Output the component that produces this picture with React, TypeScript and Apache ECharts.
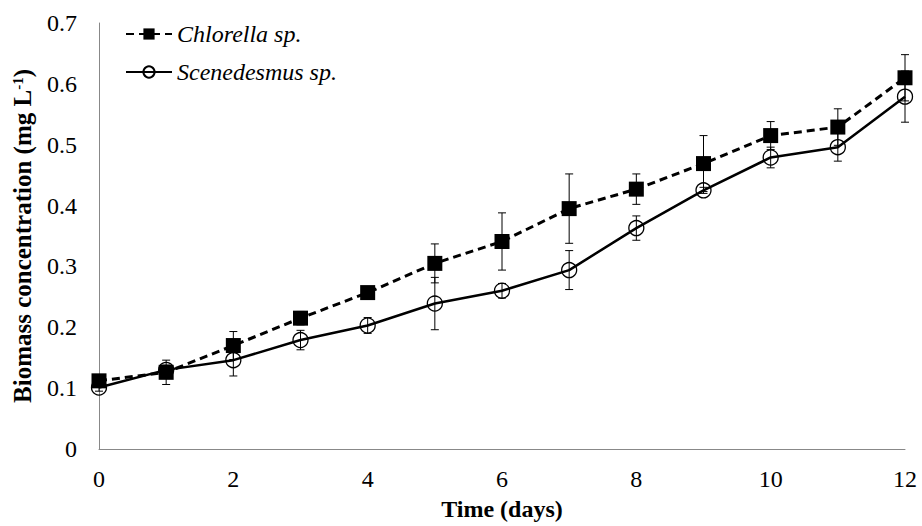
import React, { useEffect, useRef } from "react";
import * as echarts from "echarts";

const days = [0, 1, 2, 3, 4, 5, 6, 7, 8, 9, 10, 11, 12];
const chlorella = [0.112, 0.126, 0.17, 0.215, 0.257, 0.305, 0.341, 0.395, 0.427, 0.469, 0.515, 0.529, 0.61];
const chlorellaErr = [0.008, 0.02, 0.023, 0.011, 0.008, 0.032, 0.047, 0.057, 0.025, 0.046, 0.023, 0.03, 0.038];
const scenedesmus = [0.101, 0.13, 0.146, 0.179, 0.203, 0.239, 0.26, 0.294, 0.363, 0.425, 0.479, 0.496, 0.579];
const scenedesmusErr = [0.006, 0.008, 0.026, 0.016, 0.013, 0.043, 0.012, 0.032, 0.02, 0.005, 0.017, 0.023, 0.042];

const FONT = "'Liberation Serif', 'Times New Roman', serif";

function errData(vals: number[], errs: number[]) {
  return days.map((d, i) => [d, vals[i] - errs[i], vals[i] + errs[i]]);
}

function renderErr(params: any, api: any) {
  const x = api.value(0);
  const lo = api.coord([x, api.value(1)]);
  const hi = api.coord([x, api.value(2)]);
  const cap = 4;
  const style = { stroke: "#000", lineWidth: 1 };
  return {
    type: "group",
    children: [
      { type: "line", shape: { x1: lo[0], y1: lo[1], x2: hi[0], y2: hi[1] }, style },
      { type: "line", shape: { x1: lo[0] - cap, y1: lo[1], x2: lo[0] + cap, y2: lo[1] }, style },
      { type: "line", shape: { x1: hi[0] - cap, y1: hi[1], x2: hi[0] + cap, y2: hi[1] }, style },
    ],
  };
}

export default function App() {
  const ref = useRef<HTMLDivElement>(null);
  useEffect(() => {
    if (!ref.current) return;
    const chart = echarts.init(ref.current, undefined, { renderer: "svg" });
    chart.setOption({
      animation: false,
      textStyle: { fontFamily: FONT },
      grid: { left: 99, right: 17, top: 23, bottom: 76, containLabel: false },
      legend: {
        data: ["Chlorella sp.", "Scenedesmus sp."],
        orient: "vertical",
        left: 120,
        top: 17,
        itemWidth: 46,
        itemHeight: 14,
        itemGap: 14,
        textStyle: { fontFamily: FONT, fontSize: 24, fontStyle: "italic", color: "#000", padding: [0, 0, 0, 0] },
      },
      xAxis: {
        type: "value",
        min: 0,
        max: 12,
        interval: 2,
        name: "Time (days)",
        nameLocation: "middle",
        nameGap: 48,
        nameTextStyle: { fontFamily: FONT, fontSize: 24, fontWeight: "bold", color: "#000" },
        axisLine: { lineStyle: { color: "#888", width: 1 } },
        axisTick: { show: false },
        splitLine: { show: false },
        axisLabel: { fontFamily: FONT, fontSize: 24, color: "#000", margin: 18 },
      },
      yAxis: {
        type: "value",
        min: 0,
        max: 0.7,
        interval: 0.1,
        name: "{b|Biomass concentration (mg L}{s|-1}{b|)}",
        nameLocation: "middle",
        nameGap: 64,
        nameRotate: 90,
        nameTextStyle: {
          fontFamily: FONT,
          color: "#000",
          rich: {
            b: { fontFamily: FONT, fontSize: 25, fontWeight: "bold", color: "#000" },
            s: { fontFamily: FONT, fontSize: 15, fontWeight: "bold", color: "#000", verticalAlign: "top", padding: [0, 0, 10, 0] },
          },
        },
        axisLine: { show: true, lineStyle: { color: "#888", width: 1 } },
        axisTick: { show: false },
        splitLine: { show: false },
        axisLabel: {
          fontFamily: FONT,
          fontSize: 24,
          color: "#000",
          margin: 22,
          formatter: (v: number) => (v === 0 ? "0" : v.toFixed(1)),
        },
      },
      series: [
        {
          name: "Chlorella sp.",
          type: "line",
          data: days.map((d, i) => [d, chlorella[i]]),
          symbol: "rect",
          symbolSize: 15,
          itemStyle: { color: "#000" },
          lineStyle: { color: "#000", width: 3, type: [8, 5] },
          z: 3,
        },
        {
          name: "Scenedesmus sp.",
          type: "line",
          data: days.map((d, i) => [d, scenedesmus[i]]),
          symbol: "circle",
          symbolSize: 15,
          itemStyle: { color: "rgba(255,255,255,0)", borderColor: "#000", borderWidth: 1.3 },
          lineStyle: { color: "#000", width: 2.5, type: "solid" },
          z: 3,
        },
        {
          name: "errC",
          type: "custom",
          renderItem: renderErr,
          data: errData(chlorella, chlorellaErr),
          encode: { x: 0, y: [1, 2] },
          z: 4,
        },
        {
          name: "errS",
          type: "custom",
          renderItem: renderErr,
          data: errData(scenedesmus, scenedesmusErr),
          encode: { x: 0, y: [1, 2] },
          z: 4,
        },
      ],
    });
    return () => chart.dispose();
  }, []);
  return <div ref={ref} style={{ width: 922, height: 526, position: "absolute", left: 0, top: 0 }} />;
}
